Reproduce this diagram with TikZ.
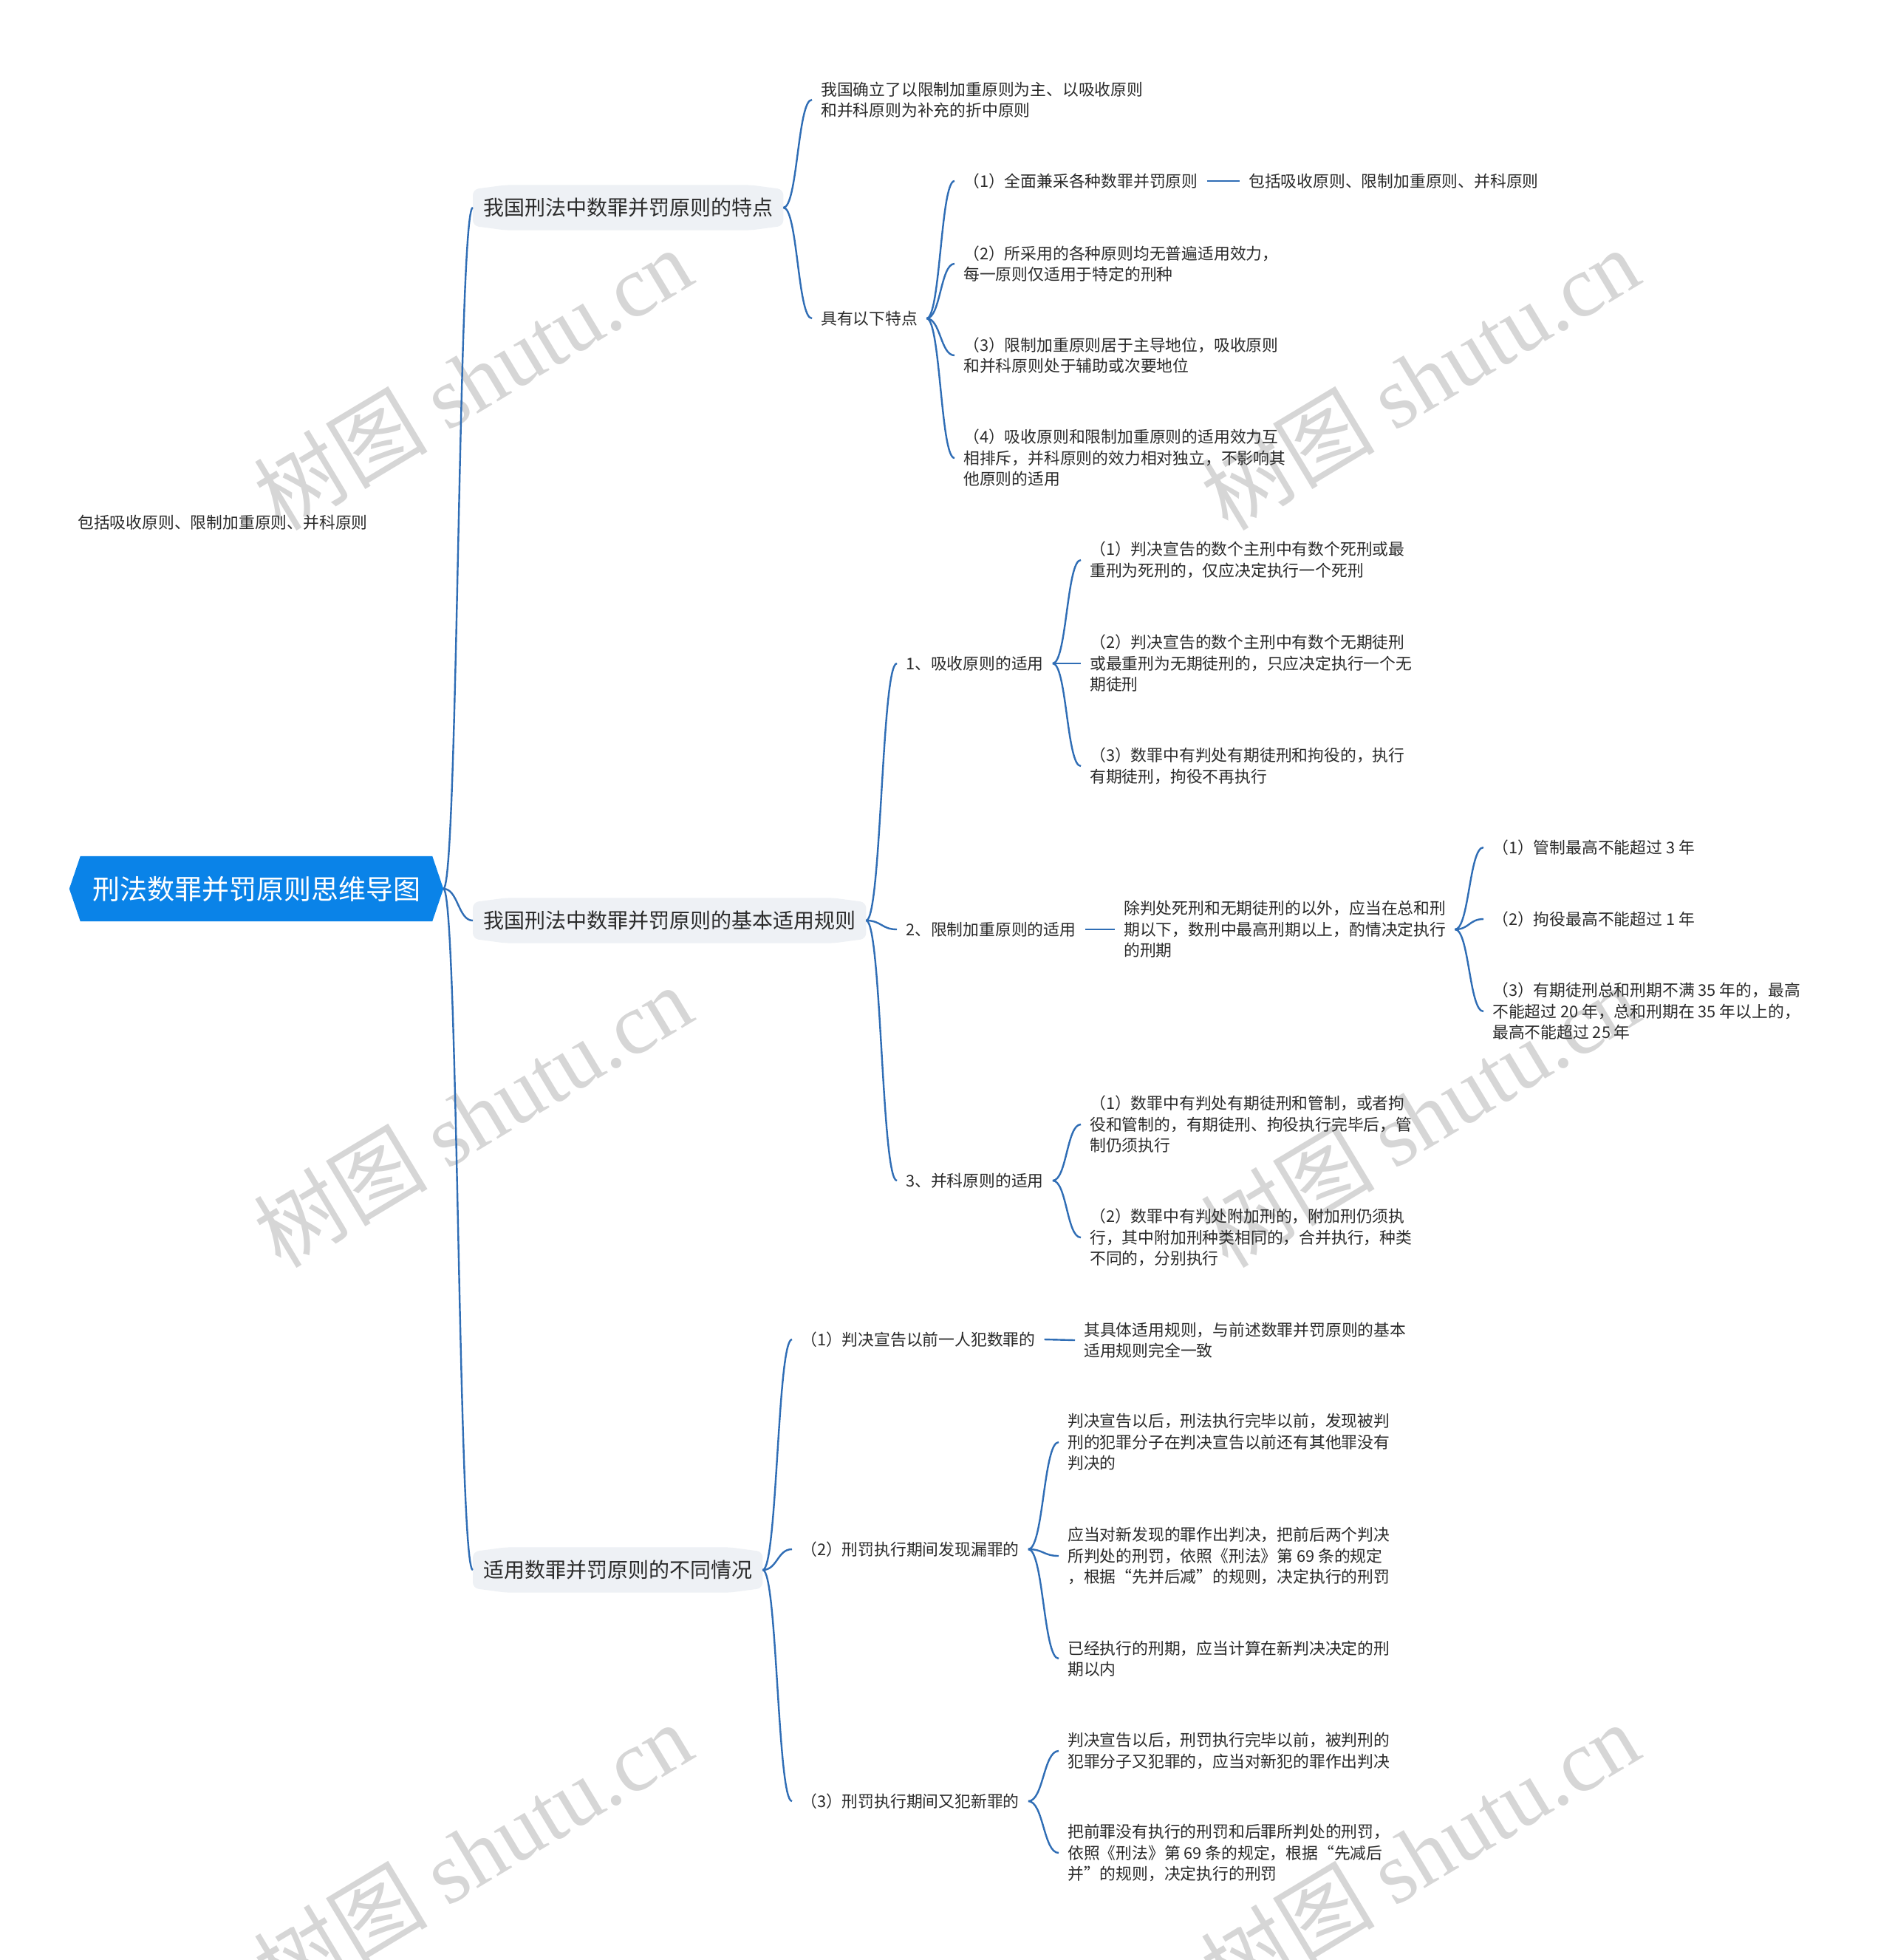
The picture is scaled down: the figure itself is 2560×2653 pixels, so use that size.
\documentclass[tikz,border=0pt]{standalone}
\usepackage{fontspec}
\setmainfont{Noto Sans CJK SC}
\newfontfamily\wmserif{Liberation Serif}
\usetikzlibrary{calc,backgrounds}
\definecolor{lc}{HTML}{2F6DB5}
\definecolor{tc}{HTML}{2B2B2B}
\definecolor{lonefill}{HTML}{EEF1F5}
\definecolor{rootfill}{HTML}{0A83E8}
\definecolor{wmc}{HTML}{D6D6D6}
\tikzset{
  conn/.style={draw=lc, line width=2.4pt},
  txt/.style={anchor=west, inner xsep=12pt, inner ysep=4pt, align=left, text=tc,
    font=\fontsize{21.8pt}{28.5pt}\selectfont},
  lone/.style={anchor=west, inner xsep=14pt, inner ysep=0pt, minimum height=49pt, text=tc,
    font=\fontsize{28pt}{34pt}\selectfont},
  rootn/.style={minimum width=506pt, minimum height=88pt, inner sep=0pt, text=white,
    font=\fontsize{37pt}{44pt}\selectfont},
  wmark/.style={rotate=31, text=wmc, inner sep=0pt, font=\fontsize{118pt}{126pt}\selectfont}
}
\newcommand\curv[2]{\draw[conn] let \p1=(#1), \p2=(#2) in (\p1) .. controls ({0.5*\x1+0.5*\x2},{\y1}) and ({0.5*\x1+0.5*\x2},{\y2}) .. (\p2);}
\newcommand\straight[2]{\draw[conn] (#1) -- (#2);}
\newcommand\lonebox[1]{\fill[lonefill, rounded corners=8pt] (#1.south west) -- (#1.north west) -- ($(#1.north west)+(45pt,6pt)$) -- ($(#1.north east)+(-45pt,6pt)$) -- (#1.north east) -- (#1.south east) -- ($(#1.south east)+(-45pt,-6pt)$) -- ($(#1.south west)+(45pt,-6pt)$) -- cycle;}
\begin{document}
\begin{tikzpicture}[x=1pt,y=-1pt]
\path[use as bounding box] (0,0) rectangle (2560,2653);

% watermarks
\foreach \wx/\wy/\wn in {640/512/1,1922/512/2,640/1510/3,1922/1510/4,640/2508/5,1922/2508/6}{
  \node[wmark] (wm\wn) at (\wx,\wy) {树图 {\wmserif shutu.cn}};
}

% root
\node[rootn] (root) at (347,1203) {刑法数罪并罚原则思维导图};

% floating text
\node[txt] (stray) at (93,707) {包括吸收原则、限制加重原则、并科原则};

% level 1
\node[lone] (la) at (640,281) {我国刑法中数罪并罚原则的特点};
\node[lone] (lb) at (640,1246) {我国刑法中数罪并罚原则的基本适用规则};
\node[lone] (lc) at (640,2125) {适用数罪并罚原则的不同情况};

% branch a
\node[txt] (A) at (1099,135) {我国确立了以限制加重原则为主、以吸收原则\\和并科原则为补充的折中原则};
\node[txt] (B) at (1099,431) {具有以下特点};
\node[txt] (C1) at (1292,245) {（1）全面兼采各种数罪并罚原则};
\node[txt] (C1a) at (1678,245) {包括吸收原则、限制加重原则、并科原则};
\node[txt] (C2) at (1292,357) {（2）所采用的各种原则均无普遍适用效力，\\每一原则仅适用于特定的刑种};
\node[txt] (C3) at (1292,481) {（3）限制加重原则居于主导地位，吸收原则\\和并科原则处于辅助或次要地位};
\node[txt] (C4) at (1292,620) {（4）吸收原则和限制加重原则的适用效力互\\相排斥，并科原则的效力相对独立，不影响其\\他原则的适用};

% branch b
\node[txt] (D1) at (1214,898) {1、吸收原则的适用};
\node[txt] (E1) at (1463,758) {（1）判决宣告的数个主刑中有数个死刑或最\\重刑为死刑的，仅应决定执行一个死刑};
\node[txt] (E2) at (1463,898) {（2）判决宣告的数个主刑中有数个无期徒刑\\或最重刑为无期徒刑的，只应决定执行一个无\\期徒刑};
\node[txt] (E3) at (1463,1037) {（3）数罪中有判处有期徒刑和拘役的，执行\\有期徒刑，拘役不再执行};
\node[txt] (D2) at (1214,1258) {2、限制加重原则的适用};
\node[txt] (F) at (1509,1258) {除判处死刑和无期徒刑的以外，应当在总和刑\\期以下，数刑中最高刑期以上，酌情决定执行\\的刑期};
\node[txt] (G1) at (2008,1147) {（1）管制最高不能超过 3 年};
\node[txt] (G2) at (2008,1244) {（2）拘役最高不能超过 1 年};
\node[txt] (G3) at (2008,1369) {（3）有期徒刑总和刑期不满 35 年的，最高\\不能超过 20 年，总和刑期在 35 年以上的，\\最高不能超过 25 年};
\node[txt] (D3) at (1214,1598) {3、并科原则的适用};
\node[txt] (H1) at (1463,1522) {（1）数罪中有判处有期徒刑和管制，或者拘\\役和管制的，有期徒刑、拘役执行完毕后，管\\制仍须执行};
\node[txt] (H2) at (1463,1675) {（2）数罪中有判处附加刑的，附加刑仍须执\\行，其中附加刑种类相同的，合并执行，种类\\不同的，分别执行};

% branch c
\node[txt] (I1) at (1072,1813) {（1）判决宣告以前一人犯数罪的};
\node[txt] (I1a) at (1455,1814) {其具体适用规则，与前述数罪并罚原则的基本\\适用规则完全一致};
\node[txt] (I2) at (1072,2097) {（2）刑罚执行期间发现漏罪的};
\node[txt] (J1) at (1433,1952) {判决宣告以后，刑法执行完毕以前，发现被判\\刑的犯罪分子在判决宣告以前还有其他罪没有\\判决的};
\node[txt] (J2) at (1433,2106) {应当对新发现的罪作出判决，把前后两个判决\\所判处的刑罚，依照《刑法》第 69 条的规定\\，根据“先并后减”的规则，决定执行的刑罚};
\node[txt] (J3) at (1433,2245) {已经执行的刑期，应当计算在新判决决定的刑\\期以内};
\node[txt] (I3) at (1072,2438) {（3）刑罚执行期间又犯新罪的};
\node[txt] (K1) at (1433,2370) {判决宣告以后，刑罚执行完毕以前，被判刑的\\犯罪分子又犯罪的，应当对新犯的罪作出判决};
\node[txt] (K2) at (1433,2508) {把前罪没有执行的刑罚和后罪所判处的刑罚，\\依照《刑法》第 69 条的规定，根据“先减后\\并”的规则，决定执行的刑罚};

\begin{pgfonlayer}{background}
  \fill[white] (0,0) rectangle (2560,2653);
  \fill[rootfill] (root.west) -- ($(root.north west)+(15pt,0pt)$) -- ($(root.north east)+(-15pt,0pt)$) -- (root.east) -- ($(root.south east)+(-15pt,0pt)$) -- ($(root.south west)+(15pt,0pt)$) -- cycle;
  \lonebox{la}
  \lonebox{lb}
  \lonebox{lc}
\end{pgfonlayer}

% connectors
\curv{root.east}{la.west}
\curv{root.east}{lb.west}
\curv{root.east}{lc.west}
\curv{la.east}{A.west}
\curv{la.east}{B.west}
\curv{B.east}{C1.west}
\curv{B.east}{C2.west}
\curv{B.east}{C3.west}
\curv{B.east}{C4.west}
\straight{C1.east}{C1a.west}
\curv{lb.east}{D1.west}
\curv{lb.east}{D2.west}
\curv{lb.east}{D3.west}
\curv{D1.east}{E1.west}
\curv{D1.east}{E2.west}
\curv{D1.east}{E3.west}
\straight{D2.east}{F.west}
\curv{F.east}{G1.west}
\curv{F.east}{G2.west}
\curv{F.east}{G3.west}
\curv{D3.east}{H1.west}
\curv{D3.east}{H2.west}
\curv{lc.east}{I1.west}
\curv{lc.east}{I2.west}
\curv{lc.east}{I3.west}
\straight{I1.east}{I1a.west}
\curv{I2.east}{J1.west}
\curv{I2.east}{J2.west}
\curv{I2.east}{J3.west}
\curv{I3.east}{K1.west}
\curv{I3.east}{K2.west}
\end{tikzpicture}
\end{document}
